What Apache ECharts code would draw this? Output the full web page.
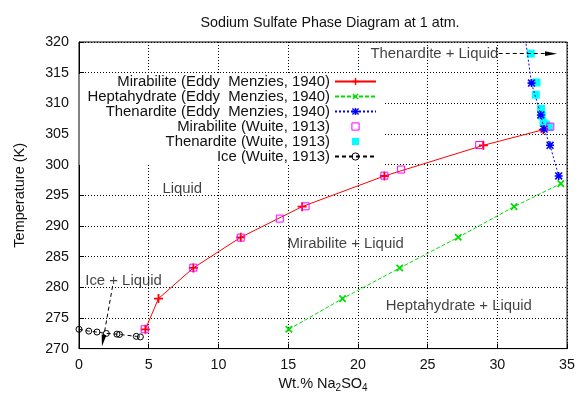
<!DOCTYPE html>
<html>
<head>
<meta charset="utf-8">
<script src="https://cdn.jsdelivr.net/npm/echarts@6/dist/echarts.min.js"></script>
<style>
  html, body { margin: 0; padding: 0; background: #fff; }
  #chart { width: 578px; height: 398px; }
</style>
</head>
<body>
<div id="chart"></div>
<script>
// wt.% Na2SO4, temperature (K)
const mirabiliteEddy = [[4.76, 273.15], [5.7, 278.15], [8.2, 283.15], [11.6, 288.15], [16.0, 293.15], [21.9, 298.15], [29.0, 303.15], [33.3, 305.7]];
const heptahydrateEddy = [[15.05, 273.15], [18.9, 278.15], [23.0, 283.15], [27.2, 288.15], [31.2, 293.15], [34.55, 296.9]];
const thenarditeEddy = [[31.98, 321], [32.45, 313.3], [33.12, 308.1], [33.35, 305.8], [33.78, 303.15], [34.4, 298.15]];
const mirabiliteWuite = [[4.71, 273.15], [8.2, 283.2], [11.6, 288.1], [14.4, 291.2], [16.25, 293.2], [21.9, 298.2], [23.1, 299.2], [28.7, 303.2], [33.8, 306.2]];
const thenarditeWuite = [[32.4, 318.1], [32.81, 313.4], [32.76, 311.4], [33.14, 309.1], [33.19, 308.0], [33.31, 306.8], [33.5, 306.5], [33.7, 306.1]];
const iceWuite = [[0, 273.15], [0.7, 272.85], [1.29, 272.7], [1.96, 272.47], [2.72, 272.36], [2.9, 272.3], [4.11, 272.0], [4.4, 271.9]];

const seriesNames = [
    "Mirabilite (Eddy  Menzies, 1940)",
    "Heptahydrate (Eddy  Menzies, 1940)",
    "Thenardite (Eddy  Menzies, 1940)",
    "Mirabilite (Wuite, 1913)",
    "Thenardite (Wuite, 1913)",
    "Ice (Wuite, 1913)",
];

// region labels, anchored at their left end
const phaseLabels = [
    { name: "Thenardite + Liquid", value: [20.9, 318.1] },
    { name: "Liquid", value: [5.98, 296.0] },
    { name: "Mirabilite + Liquid", value: [14.95, 287.0] },
    { name: "Heptahydrate + Liquid", value: [22.0, 277.0] },
    { name: "Ice + Liquid", value: [0.45, 281.0] },
];
// arrows from labels to their region (end = centre of the head)
const arrows = [
    [[30.1, 318.1], [33.85, 318.1]],
    [[2.41, 280.2], [1.72, 271.3]],
];

const font = "'Liberation Sans', Arial, Helvetica, sans-serif";
const ink = "#111";
const plus = "path://M4,0h2v10h-2z M0,4h10v2h-10z";
const star = "path://M4,0h2v10h-2z M0,4h10v2h-10z M0,1.4L1.4,0L10,8.6L8.6,10z M8.6,0L10,1.4L1.4,10L0,8.6z";
const head = "path://M0,0 M10,14 M5,0L8,14L2,14z";

const chart = echarts.init(document.getElementById("chart"));

chart.setOption({
    animation: false,
    textStyle: { fontFamily: font, color: ink },
    title: {
        text: "Sodium Sulfate Phase Diagram at 1 atm.",
        left: 325,
        textAlign: "center",
        top: 11,
        textStyle: { fontSize: 14.3, fontWeight: "normal", color: ink, fontFamily: font },
    },
    grid: {
        left: 79,
        right: 10,
        top: 42,
        bottom: 46,
        show: true,
        borderColor: "#000",
        borderWidth: 1,
    },
    legend: {
        orient: "vertical",
        align: "right",
        right: 193,
        top: 74,
        itemWidth: 41,
        itemHeight: 9,
        itemGap: 0,
        padding: [0, 8, 1, 8],
        backgroundColor: "#fff",
        selectedMode: false,
        itemStyle: { borderWidth: 1 },
        textStyle: { fontSize: 14.9, lineHeight: 14.8, color: ink, fontFamily: font },
        data: seriesNames,
    },
    xAxis: {
        type: "value",
        min: 0,
        max: 35,
        interval: 5,
        name: "{a|Wt.% Na}{s|2}{a|SO}{s|4}",
        nameLocation: "middle",
        nameGap: 25,
        nameTextStyle: {
            rich: {
                a: { fontSize: 14.5, color: ink, fontFamily: font },
                s: { fontSize: 10, color: ink, fontFamily: font, padding: [8, 0, 0, 0] },
            },
        },
        axisLine: { lineStyle: { color: "#000", width: 1 } },
        axisTick: { inside: true, length: 5, lineStyle: { color: "#000" } },
        axisLabel: { fontSize: 14.3, color: ink, margin: 9, fontFamily: font },
        splitLine: { lineStyle: { color: "#000", type: [1, 2], width: 1 } },
    },
    yAxis: {
        type: "value",
        min: 270,
        max: 320,
        interval: 5,
        name: "Temperature (K)",
        nameLocation: "middle",
        nameGap: 52,
        nameTextStyle: { fontSize: 14.5, color: ink, fontFamily: font },
        axisLine: { show: true, lineStyle: { color: "#000", width: 1 } },
        axisTick: { show: true, inside: true, length: 5, lineStyle: { color: "#000" } },
        axisLabel: { fontSize: 14.3, color: ink, margin: 10, fontFamily: font },
        splitLine: { lineStyle: { color: "#000", type: [1, 2], width: 1 } },
    },
    series: [
        {
            name: seriesNames[0],
            type: "line",
            data: mirabiliteEddy,
            symbol: plus,
            symbolSize: 9,
            itemStyle: { color: "#ff0000" },
            lineStyle: { color: "#ff0000", width: 1 },
            z: 3,
        },
        {
            name: seriesNames[1],
            type: "line",
            data: heptahydrateEddy,
            symbol: plus,
            symbolRotate: 45,
            symbolSize: 9,
            itemStyle: { color: "#00e000" },
            lineStyle: { color: "#00e000", width: 1, type: [4, 2] },
            z: 3,
        },
        {
            name: seriesNames[2],
            type: "line",
            data: thenarditeEddy,
            symbol: star,
            symbolSize: 8,
            itemStyle: { color: "#0000ff" },
            lineStyle: { color: "#0000ff", width: 1, type: [2, 2] },
            z: 3,
        },
        {
            name: seriesNames[3],
            type: "line",
            data: mirabiliteWuite,
            symbol: "rect",
            symbolSize: 7,
            itemStyle: { color: "transparent", borderColor: "#ff00ff", borderWidth: 1 },
            lineStyle: { width: 0, opacity: 0 },
            z: 4,
        },
        {
            name: seriesNames[4],
            type: "line",
            data: thenarditeWuite,
            symbol: "rect",
            symbolSize: 8,
            itemStyle: { color: "#00ffff" },
            lineStyle: { width: 0, opacity: 0 },
            z: 2,
        },
        {
            name: seriesNames[5],
            type: "line",
            data: iceWuite,
            symbol: "circle",
            symbolSize: 6,
            itemStyle: { color: "transparent", borderColor: "#000", borderWidth: 1 },
            lineStyle: { color: "#000", width: 1, type: [4, 3] },
            z: 3,
        },
        {
            name: "labels",
            type: "scatter",
            data: phaseLabels,
            symbolSize: 0,
            silent: true,
            label: {
                show: true,
                position: "right",
                distance: 0,
                formatter: "{b}",
                fontSize: 14.9,
                color: ink,
                fontFamily: font,
            },
            markLine: {
                silent: true,
                symbol: ["none", head],
                symbolSize: [8, 12],
                label: { show: false },
                lineStyle: { color: "#000", width: 1, type: [4, 3] },
                emphasis: { disabled: true },
                data: arrows.map(([a, b]) => [{ coord: a }, { coord: b }]),
            },
        },
    ],
});
</script>
</body>
</html>
